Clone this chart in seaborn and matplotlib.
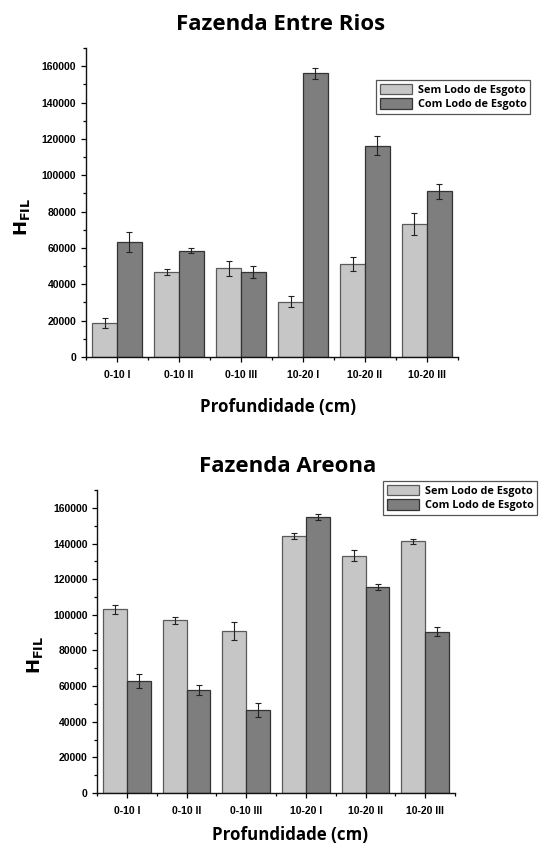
import matplotlib
matplotlib.use("Agg")
import matplotlib.pyplot as plt
import pandas as pd
import seaborn as sns
from matplotlib.patches import Patch
from matplotlib.ticker import MultipleLocator, FixedLocator

# data
profundidade = ["0-10 I", "0-10 II", "0-10 III", "10-20 I", "10-20 II", "10-20 III"]
tratamentos = ["Sem Lodo de Esgoto", "Com Lodo de Esgoto"]

entre_rios_sem = [18700, 46700, 48800, 30500, 51200, 73100]
entre_rios_sem_err = [2500, 1500, 4000, 3000, 4000, 6000]
entre_rios_com = [63400, 58500, 46800, 156000, 116300, 91200]
entre_rios_com_err = [5500, 1500, 3500, 3000, 5300, 4000]

areona_sem = [103000, 96800, 90900, 144300, 133100, 141300]
areona_sem_err = [2500, 2000, 4800, 1500, 3000, 1500]
areona_com = [62900, 57700, 46400, 154900, 115800, 90500]
areona_com_err = [4000, 2800, 4000, 1700, 1700, 2600]

cores = {"Sem Lodo de Esgoto": "#c6c6c6", "Com Lodo de Esgoto": "#7e7e7e"}
bordas = ["#5a5a5a", "#333333"]

TITLE_FONT = "Open Sans"
TICK_FONT = "Liberation Sans"


def painel(ax, sem, sem_err, com, com_err):
    df = pd.DataFrame({
        "Profundidade": profundidade * 2,
        "H": sem + com,
        "Tratamento": [tratamentos[0]] * 6 + [tratamentos[1]] * 6,
    })
    sns.barplot(data=df, x="Profundidade", y="H", hue="Tratamento",
                order=profundidade, hue_order=tratamentos, palette=cores,
                errorbar=None, width=0.8, legend=False, ax=ax)
    for cont, err, ec in zip(ax.containers, [sem_err, com_err], bordas):
        xs, ys = [], []
        for p in cont:
            p.set_edgecolor(ec)
            p.set_linewidth(0.9)
            xs.append(p.get_x() + p.get_width() / 2)
            ys.append(p.get_height())
        ax.errorbar(xs, ys, yerr=err, fmt="none", ecolor="#222222",
                    elinewidth=0.8, capsize=2.5, capthick=0.8)
    ax.set_xlim(-0.5, 5.5)
    ax.set_ylim(0, 170000)
    ax.yaxis.set_major_locator(MultipleLocator(20000))
    ax.yaxis.set_minor_locator(MultipleLocator(10000))
    ax.xaxis.set_minor_locator(FixedLocator([i - 0.5 for i in range(7)]))
    sns.despine(ax=ax)
    ax.tick_params(which="major", length=3.5, width=0.9, direction="out")
    ax.tick_params(which="minor", length=2, width=0.9, direction="out")
    ax.tick_params(axis="x", which="major", pad=6)
    for s in ["left", "bottom"]:
        ax.spines[s].set_linewidth(1.0)
        ax.spines[s].set_color("#111111")
    for lab in ax.get_xticklabels() + ax.get_yticklabels():
        lab.set_fontfamily(TICK_FONT)
        lab.set_fontweight("bold")
        lab.set_fontsize(7.5)
    ax.set_xlabel("")
    ax.set_ylabel("")


fig = plt.figure(figsize=(5.55, 8.43), dpi=100)

ax1 = fig.add_axes([0.155, 0.5765, 0.670, 0.3665])
painel(ax1, entre_rios_sem, entre_rios_sem_err, entre_rios_com, entre_rios_com_err)
ax2 = fig.add_axes([0.175, 0.0593, 0.645, 0.3594])
painel(ax2, areona_sem, areona_sem_err, areona_com, areona_com_err)

handles = [Patch(facecolor=cores[t], edgecolor=ec, linewidth=0.9) for t, ec in zip(tratamentos, bordas)]
leg_kw = dict(frameon=True, fancybox=False, edgecolor="#555555", framealpha=1,
              handlelength=3.0, handleheight=1.1, handletextpad=0.5,
              borderpad=0.35, labelspacing=0.25, borderaxespad=0,
              prop={"family": TITLE_FONT, "weight": "bold", "size": 7.8})
l1 = fig.legend(handles, tratamentos, loc="upper left", bbox_to_anchor=(376 / 555, 1 - 80 / 843), **leg_kw)
l2 = fig.legend(handles, tratamentos, loc="upper left", bbox_to_anchor=(383 / 555, 1 - 481 / 843), **leg_kw)
for leg in (l1, l2):
    leg.get_frame().set_linewidth(0.9)

fig.text(281 / 555, 1 - 24 / 843, "Fazenda Entre Rios", ha="center", va="center",
         fontfamily=TITLE_FONT, fontweight="bold", fontsize=16)
fig.text(288 / 555, 1 - 467 / 843, "Fazenda Areona", ha="center", va="center",
         fontfamily=TITLE_FONT, fontweight="bold", fontsize=16)
fig.text(278 / 555, 1 - 407 / 843, "Profundidade (cm)", ha="center", va="center",
         fontfamily=TITLE_FONT, fontweight="bold", fontsize=12.2)
fig.text(290 / 555, 1 - 835 / 843, "Profundidade (cm)", ha="center", va="center",
         fontfamily=TITLE_FONT, fontweight="bold", fontsize=12.2)
fig.text(22 / 555, 1 - 217 / 843, r"$\mathbf{H_{FIL}}$", ha="center", va="center",
         rotation=90, fontsize=13)
fig.text(35 / 555, 1 - 655 / 843, r"$\mathbf{H_{FIL}}$", ha="center", va="center",
         rotation=90, fontsize=13)

fig.savefig("out.png", dpi=100)
